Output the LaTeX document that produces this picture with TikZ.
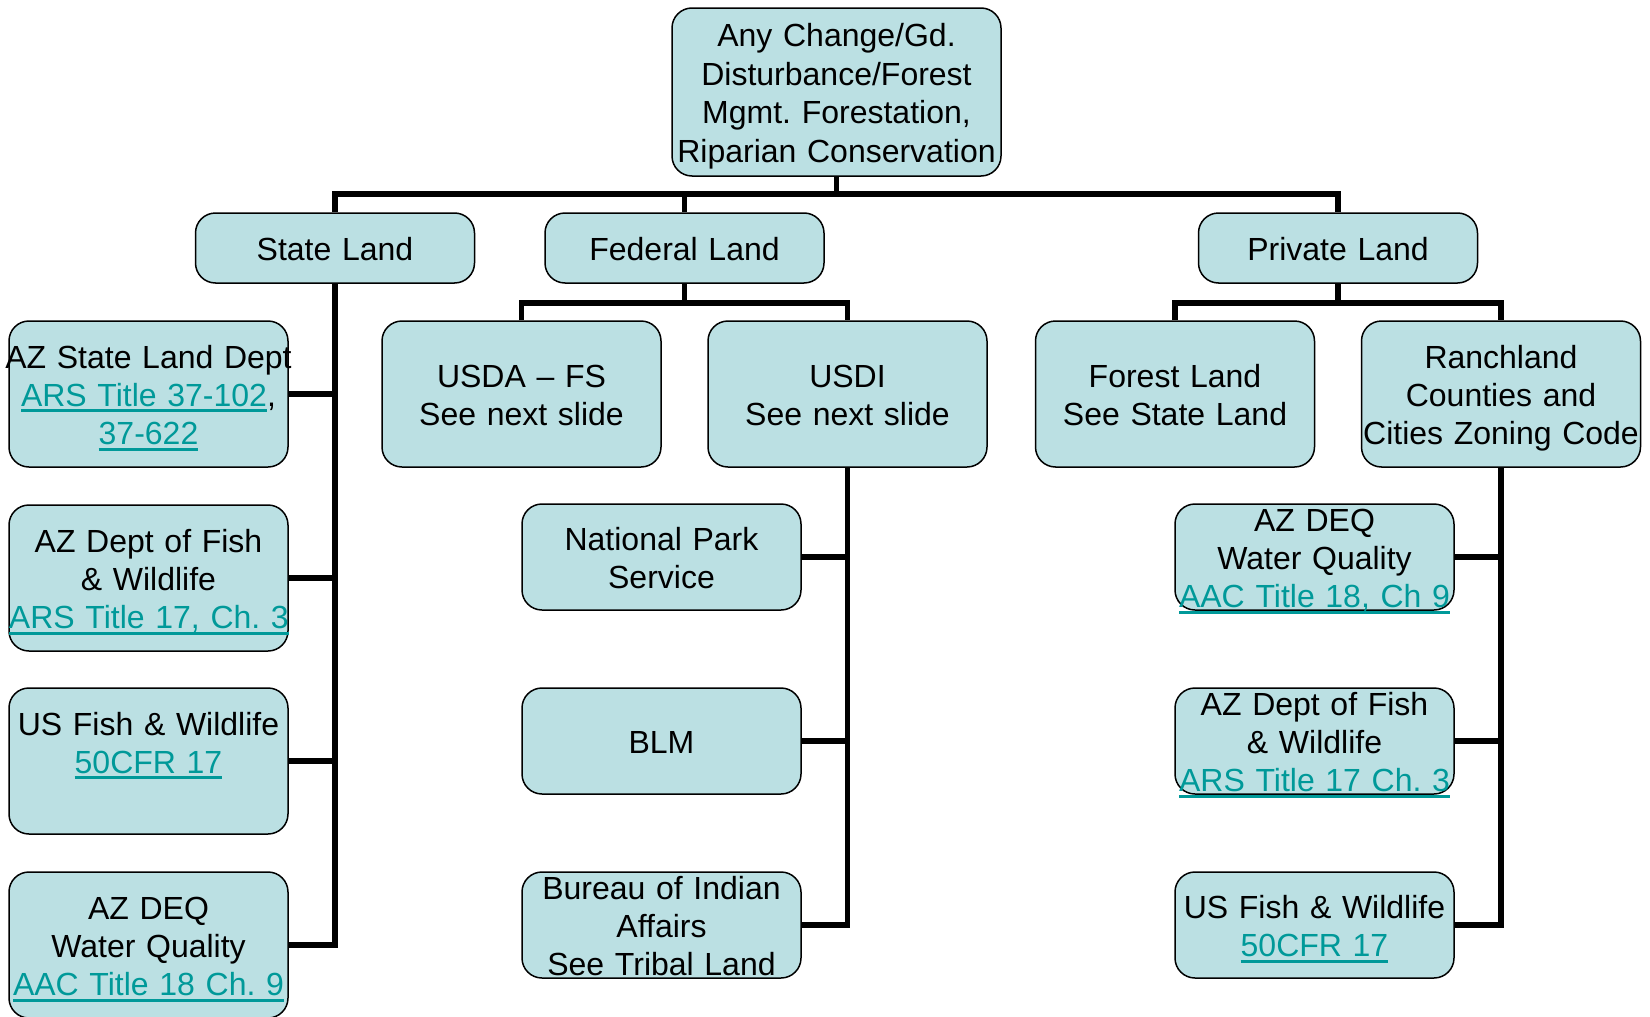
\documentclass[tikz,border=0pt]{standalone}
\usepackage{fontspec}
\setmainfont{Liberation Sans}
\definecolor{boxfill}{RGB}{187,224,227}
\definecolor{linkc}{RGB}{0,153,153}
\newcommand\lnk[1]{\leavevmode{\color{linkc}\setbox0\hbox{#1}\rlap{\rule[-3pt]{\wd0}{1.5pt}}\box0}}

\begin{document}
\begin{tikzpicture}[x=0.5pt,y=-0.5pt,
            box/.style={draw,fill=boxfill,rounded corners=10pt,line width=0.75pt,
                text width=139.5pt,minimum height=#1,align=center,
                inner xsep=0pt,inner ysep=-10pt,
                font=\fontsize{16pt}{19.2pt}\selectfont\frenchspacing,
                execute at begin node={\rule{0pt}{15.8pt}},
                execute at end node={\rule[-3.4pt]{0pt}{3.4pt}}},
            box/.default=73pt,
            wire/.style={line width=2.6pt}
        ]
        \useasboundingbox (0,0) rectangle (1650,1017);
        % top and land types
        \node[box=84pt,text width=164.5pt] (top) at (836.5,92) {Any Change/Gd.\\Disturbance/Forest\\Mgmt. Forestation,\\Riparian Conservation};
        \node[box=35pt] (state) at (335,248) {State Land};
        \node[box=35pt] (fed) at (684.5,248) {Federal Land};
        \node[box=35pt] (priv) at (1338,248) {Private Land};
        % second row
        \node[box] (azland) at (148.5,394) {\makebox[139.5pt]{AZ State Land Dept}\\\lnk{ARS Title 37-102},\\\lnk{37-622}};
        \node[box] (usda) at (521.5,394) {USDA -- FS\\See next slide};
        \node[box] (usdi) at (847.5,394) {USDI\\See next slide};
        \node[box] (forest) at (1175,394) {Forest Land\\See State Land};
        \node[box] (ranch) at (1501,394) {Ranchland\\Counties and\\Cities Zoning Code};
        % state land column
        \node[box] (azfish) at (148.5,578) {AZ Dept of Fish\\\& Wildlife\\\lnk{ARS Title 17, Ch. 3}};
        \node[box] (usfish) at (148.5,761) {US Fish \& Wildlife\\\lnk{50CFR 17}\\\mbox{}};
        \node[box] (azdeq) at (148.5,945) {AZ DEQ\\Water Quality\\\lnk{AAC Title 18 Ch. 9}};
        % usdi column
        \node[box=53pt] (nps) at (661.5,557) {National Park\\Service};
        \node[box=53pt] (blm) at (661.5,741) {BLM};
        \node[box=53pt] (bia) at (661.5,925) {Bureau of Indian\\Affairs\\See Tribal Land};
        % ranchland column
        \node[box=53pt] (rdeq) at (1314.5,557) {AZ DEQ\\Water Quality\\\lnk{AAC Title 18, Ch 9}};
        \node[box=53pt] (rfish) at (1314.5,741) {AZ Dept of Fish\\\& Wildlife\\\lnk{ARS Title 17 Ch. 3}};
        \node[box=53pt] (rusfish) at (1314.5,925) {US Fish \& Wildlife\\\lnk{50CFR 17}};

        \coordinate (b0) at (836.5,194);
        \coordinate (b1) at (684.5,303);
        \coordinate (b2) at (1338,303);
        \draw[wire] (top) -- (b0);
        \draw[wire] (state) |- (b0) -| (priv);
        \draw[wire] (fed) -- (fed |- b0);
        \draw[wire] (fed) -- (b1);
        \draw[wire] (usda) |- (b1) -| (usdi);
        \draw[wire] (priv) -- (b2);
        \draw[wire] (forest) |- (b2) -| (ranch);
        \foreach \n in {azland,azfish,usfish,azdeq}
            \draw[wire] (\n.east) -| (state.south);
        \foreach \n in {nps,blm,bia}
            \draw[wire] (\n.east) -| (usdi.south);
        \foreach \n in {rdeq,rfish,rusfish}
            \draw[wire] (\n.east) -| (ranch.south);
    \end{tikzpicture}
\end{document}
